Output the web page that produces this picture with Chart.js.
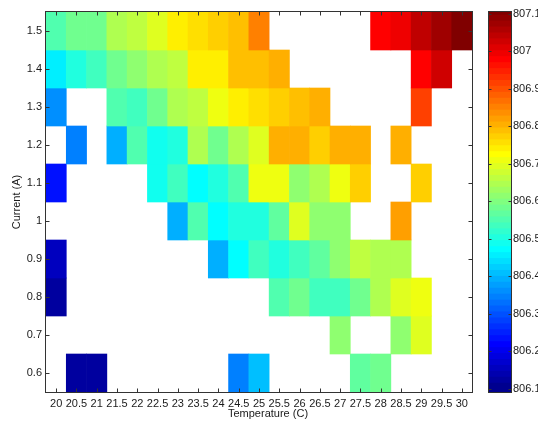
<!DOCTYPE html>
<html><head><meta charset="utf-8">
<script src="https://cdn.jsdelivr.net/npm/chart.js@4/dist/chart.umd.min.js"></script>
<style>
html,body{margin:0;padding:0;background:#fff;width:538px;height:423px;overflow:hidden}
#main{position:absolute;left:0;top:0;width:480px;height:423px}
#cbar{position:absolute;left:480px;top:0;width:58px;height:423px}
</style></head><body>
<div id="main"><canvas id="c1"></canvas></div>
<div id="cbar"><canvas id="c2"></canvas></div>
<script>
// ---- data ----
const temperatures = ['20','20.5','21','21.5','22','22.5','23','23.5','24','24.5','25','25.5','26','26.5','27','27.5','28','28.5','29','29.5','30'];
const currents = [1.5, 1.4, 1.3, 1.2, 1.1, 1.0, 0.9, 0.8, 0.7, 0.6];
const n = null;
const row_1_5 = [806.54,806.57,806.58,806.63,806.65,806.68,806.74,806.745,806.76,806.78,806.84,n,n,n,n,n,806.97,806.99,807.03,807.07,807.1];
const row_1_4 = [806.45,806.49,806.52,806.58,806.60,806.63,806.66,806.725,806.74,806.78,806.78,806.80,n,n,n,n,n,n,806.97,807.02,n];
const row_1_3 = [806.35,n,n,806.54,806.52,806.57,806.63,806.66,806.70,806.725,806.745,806.76,806.78,806.80,n,n,n,n,806.90,n,n];
const row_1_2 = [n,806.33,n,806.38,806.54,806.475,806.49,806.63,806.57,806.645,806.68,806.80,806.80,806.76,806.79,806.80,n,806.79,n,n,n];
const row_1_1 = [806.225,n,n,n,n,806.475,806.52,806.46,806.49,806.54,806.70,806.70,806.61,806.645,806.70,806.77,n,n,806.77,n,n];
const row_1_0 = [n,n,n,n,n,n,806.39,806.54,806.46,806.49,806.49,806.56,806.68,806.61,806.61,n,n,806.81,n,n,n];
const row_0_9 = [806.14,n,n,n,n,n,n,n,806.39,806.46,806.53,806.50,806.52,806.56,806.60,806.66,806.63,806.63,n,n,n];
const row_0_8 = [806.12,n,n,n,n,n,n,n,n,n,n,806.54,806.57,806.52,806.52,806.57,806.64,806.68,806.70,n,n];
const row_0_7 = [n,n,n,n,n,n,n,n,n,n,n,n,n,n,806.60,n,n,806.60,806.68,n,n];
const row_0_6 = [n,806.12,806.12,n,n,n,n,n,n,806.34,806.40,n,n,n,n,806.56,806.57,n,n,n,n];
const rows = [row_1_5,row_1_4,row_1_3,row_1_2,row_1_1,row_1_0,row_0_9,row_0_8,row_0_7,row_0_6];
const colorbarTicks = [806.1,806.2,806.3,806.4,806.5,806.6,806.7,806.8,806.9,807.0,807.1];
const colorLimits = [806.092, 807.104];
const xTitle = 'Temperature (C)';
const yTitle = 'Current (A)';

// ---- MATLAB jet(64) ----
function jet(m){
  const k = Math.ceil(m/4), u = [];
  for(let i=1;i<=k;i++) u.push(i/k);
  for(let i=0;i<k-1;i++) u.push(1);
  for(let i=k;i>=1;i--) u.push(i/k);
  const off = Math.ceil(k/2) - (m%4===1?1:0);
  const map = Array.from({length:m},()=>[0,0,0]);
  for(let j=0;j<u.length;j++){
    const g = off+j+1, r = g+k, b = g-k;
    if(g>=1&&g<=m) map[g-1][1]=u[j];
    if(r>=1&&r<=m) map[r-1][0]=u[j];
    if(b>=1&&b<=m) map[b-1][2]=u[j];
  }
  return map.map(c=>`rgb(${Math.round(c[0]*255)},${Math.round(c[1]*255)},${Math.round(c[2]*255)})`);
}
const JET = jet(64);
function colorFor(v){
  let i = Math.floor((v-colorLimits[0])/(colorLimits[1]-colorLimits[0])*64);
  i = Math.max(0, Math.min(63, i));
  return JET[i];
}

const FONT_FAMILY = "'Liberation Sans', Arial, sans-serif";
Chart.defaults.font = {family:FONT_FAMILY, size:11};
Chart.defaults.color = '#1a1a1a';
Chart.defaults.animation = false;

function framePlugin(xTicks, tickLen){
  return {
    id:'frame',
    afterDatasetsDraw(chart){
      const {ctx, chartArea:a} = chart;
      const L = Math.round(a.left)-0.5, R = Math.round(a.right)+0.5, T = Math.round(a.top)-0.5, B = Math.round(a.bottom)+0.5;
      ctx.save();
      ctx.strokeStyle = '#333'; ctx.lineWidth = 1;
      ctx.strokeRect(L, T, R-L, B-T);
      ctx.beginPath();
      if (xTicks) {
        const xs = chart.scales.x;
        xs.ticks.forEach((t,i)=>{
          const x = Math.round(xs.getPixelForTick(i))+0.5;
          ctx.moveTo(x,B); ctx.lineTo(x,B-tickLen);
          ctx.moveTo(x,T); ctx.lineTo(x,T+tickLen);
        });
      }
      const ys = chart.scales.y;
      ys.ticks.forEach(t=>{
        const y = Math.round(ys.getPixelForValue(t.value))+0.5;
        ctx.moveTo(L,y); ctx.lineTo(L+tickLen,y);
        ctx.moveTo(R,y); ctx.lineTo(R-tickLen,y);
      });
      ctx.stroke();
      ctx.restore();
    }
  };
}

// x-axis title (placed where the reference places it, a little right of centre)
const xTitlePlugin = {
  id:'xTitle',
  afterDraw(chart){
    const {ctx, chartArea:a} = chart;
    ctx.save();
    ctx.font = `11px ${FONT_FAMILY}`;
    ctx.fillStyle = '#1a1a1a';
    ctx.textAlign = 'center';
    ctx.textBaseline = 'middle';
    ctx.fillText(xTitle, (a.left+a.right)/2 + 9, a.bottom + 22);
    ctx.restore();
  }
};

const fmt = v => String(+Number(v).toFixed(1));

// ---- main heatmap ----
new Chart(document.getElementById('c1'), {
  type:'bar',
  data:{
    labels: temperatures,
    datasets: currents.map((c,r)=>({
      data: rows[r].map(v => v==null ? null : [c-0.05, c+0.05]),
      backgroundColor: rows[r].map(v => v==null ? 'rgba(0,0,0,0)' : colorFor(v)),
      borderWidth:0, barPercentage:1, categoryPercentage:1, grouped:false
    }))
  },
  options:{
    responsive:true, maintainAspectRatio:false, events:[],
    layout:{padding:{top:12,right:8,left:0,bottom:0}},
    plugins:{legend:{display:false}, tooltip:{enabled:false}},
    scales:{
      x:{
        type:'category', offset:true,
        grid:{display:false, drawTicks:false}, border:{display:false},
        ticks:{autoSkip:false, maxRotation:0, minRotation:0, padding:5},
        title:{display:false},
        afterFit(s){ s.height = 31; }
      },
      y:{
        type:'linear', min:0.55, max:1.55,
        grid:{display:false, drawTicks:false}, border:{display:false},
        afterBuildTicks(s){ s.ticks = currents.map(v=>({value:v})); },
        ticks:{callback:fmt, padding:4},
        title:{display:true, text:yTitle, padding:{top:10,bottom:0}},
        afterFit(s){ s.width = 46; }
      }
    }
  },
  plugins:[framePlugin(true,4), xTitlePlugin]
});

// ---- colorbar ----
const bandStep = (colorLimits[1]-colorLimits[0])/64;
new Chart(document.getElementById('c2'), {
  type:'bar',
  data:{
    labels:['cb'],
    datasets: JET.map((col,k)=>({
      data:[[colorLimits[0]+k*bandStep, Math.min(colorLimits[1], colorLimits[0]+(k+1.5)*bandStep)]],
      backgroundColor: col, borderWidth:0, barPercentage:1, categoryPercentage:1, grouped:false
    }))
  },
  options:{
    responsive:true, maintainAspectRatio:false, events:[],
    layout:{padding:{top:12,right:0,left:9,bottom:31}},
    plugins:{legend:{display:false}, tooltip:{enabled:false}},
    scales:{
      x:{display:false, offset:true},
      y:{
        type:'linear', position:'right', min:colorLimits[0], max:colorLimits[1],
        grid:{display:false, drawTicks:false}, border:{display:false},
        afterBuildTicks(s){ s.ticks = colorbarTicks.map(v=>({value:v})); },
        ticks:{callback:fmt, padding:2},
        afterFit(s){ s.width = 27; }
      }
    }
  },
  plugins:[framePlugin(false,3)]
});
</script>
</body></html>
